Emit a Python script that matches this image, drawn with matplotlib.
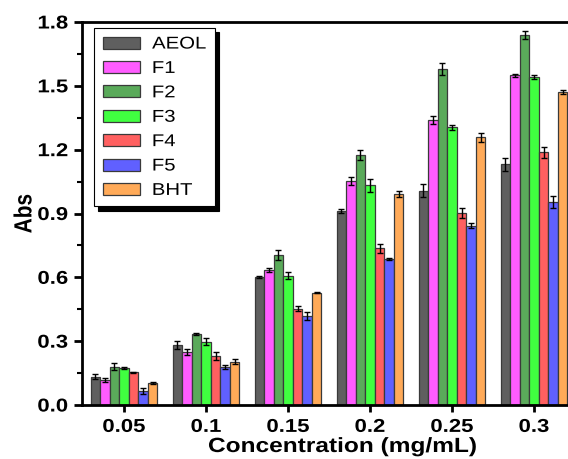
import matplotlib
matplotlib.use("Agg")
import matplotlib.pyplot as plt
from matplotlib.patheffects import AbstractPathEffect
from matplotlib.transforms import Affine2D
import numpy as np

plt.rcParams['font.family'] = ['Liberation Sans', 'DejaVu Sans']

concentrations = ["0.05", "0.1", "0.15", "0.2", "0.25", "0.3"]
series_names = ["AEOL", "F1", "F2", "F3", "F4", "F5", "BHT"]

AEOL = [0.133, 0.282, 0.600, 0.913, 1.007, 1.131]
F1 = [0.117, 0.248, 0.634, 1.053, 1.339, 1.549]
F2 = [0.180, 0.334, 0.705, 1.175, 1.578, 1.739]
F3 = [0.172, 0.298, 0.608, 1.032, 1.305, 1.540]
F4 = [0.154, 0.230, 0.453, 0.736, 0.904, 1.187]
F5 = [0.067, 0.180, 0.417, 0.685, 0.843, 0.953]
BHT = [0.102, 0.204, 0.528, 0.992, 1.258, 1.471]

AEOL_err = [0.013, 0.017, 0.005, 0.010, 0.030, 0.029]
F1_err = [0.008, 0.013, 0.010, 0.020, 0.019, 0.008]
F2_err = [0.017, 0.004, 0.025, 0.025, 0.028, 0.019]
F3_err = [0.005, 0.017, 0.017, 0.030, 0.013, 0.010]
F4_err = [0.003, 0.017, 0.013, 0.020, 0.024, 0.024]
F5_err = [0.015, 0.010, 0.019, 0.005, 0.013, 0.028]
BHT_err = [0.004, 0.010, 0.003, 0.013, 0.020, 0.009]

values = [AEOL, F1, F2, F3, F4, F5, BHT]
errors = [AEOL_err, F1_err, F2_err, F3_err, F4_err, F5_err, BHT_err]
colors = ["#5f5f5f", "#ff5cff", "#5aaa5a", "#40ff40", "#ff6060", "#6060ff", "#ffaa58"]

STRETCH = 1.19


class HStretch(AbstractPathEffect):
    """Stretch text horizontally (display x) about an anchor fraction f of its width."""

    def __init__(self, sx, f):
        super().__init__()
        self.sx = sx
        self.f = f

    def draw_path(self, renderer, gc, tpath, affine, rgbFace=None):
        ext = tpath.get_extents(affine)
        anchor = ext.x0 + self.f * ext.width
        new = affine + Affine2D().translate(-anchor, 0).scale(self.sx, 1).translate(anchor, 0)
        renderer.draw_path(gc, tpath, new, rgbFace)


W, H = 568, 459
fig = plt.figure(figsize=(W / 100, H / 100), dpi=100)
ax = fig.add_axes([82 / W, (H - 405) / H, 494 / W, 383 / H])

x = np.arange(len(concentrations))
bw = 0.116
n = len(series_names)
for i, (name, vals, errs, c) in enumerate(zip(series_names, values, errors, colors)):
    pos = x + (i - (n - 1) / 2) * bw
    ax.bar(pos, vals, width=bw, color=c, edgecolor="#3a3a3a", linewidth=0.9,
           label=name + "  ", zorder=2)
    ax.errorbar(pos, vals, yerr=errs, fmt="none", ecolor="black",
                elinewidth=1.0, capsize=2.5, capthick=1.0, zorder=3)

ax.set_xlim(-0.512, 5.512)
ax.set_ylim(0, 1.8)
ax.set_xticks(x)
ax.set_xticklabels(concentrations)
yt = np.arange(0, 1.81, 0.3)
ax.set_yticks(yt)
ax.set_yticklabels([f"{v:.1f}" for v in yt])
ax.set_yticks(np.arange(0.15, 1.8, 0.3), minor=True)

for lbl in ax.get_xticklabels():
    lbl.set_fontweight("bold")
    lbl.set_fontsize(13.4)
    lbl.set_path_effects([HStretch(STRETCH, 0.5)])
for lbl in ax.get_yticklabels():
    lbl.set_fontweight("bold")
    lbl.set_fontsize(13.4)
    lbl.set_path_effects([HStretch(STRETCH, 1.0)])

ax.tick_params(axis="both", which="major", direction="out", length=6, width=2)
ax.tick_params(axis="y", which="major", pad=4)
ax.tick_params(axis="y", which="minor", direction="out", length=3.5, width=1.5)
ax.tick_params(axis="x", which="major", length=5, pad=5)

for s in ["left", "bottom", "top"]:
    ax.spines[s].set_linewidth(2)
ax.spines["right"].set_visible(False)

yl = ax.set_ylabel("Abs", fontsize=15, fontweight="bold")
xl = ax.set_xlabel("Concentration (mg/mL)", fontsize=14.8, fontweight="bold")
yl.set_path_effects([HStretch(STRETCH, 0.5)])
xl.set_path_effects([HStretch(STRETCH, 0.5)])
ax.yaxis.set_label_coords((34 - 82) / 494, 0.5)
ax.xaxis.set_label_coords((342 - 82) / 494, -(437 - 405) / 383)

leg = ax.legend(loc="upper left", bbox_to_anchor=((94 - 82) / 494, 1 - (28 - 22) / 383),
                fontsize=12.3, frameon=True, fancybox=False, edgecolor="black",
                shadow={"ox": 3, "oy": -3, "color": "black", "alpha": 1},
                handlelength=2.2, handleheight=0.7, labelspacing=0.55,
                borderpad=0.5, handletextpad=0.7, borderaxespad=0)
leg.get_frame().set_linewidth(0.8)
for t in leg.get_texts():
    t.set_path_effects([HStretch(STRETCH, 0.0)])

fig.savefig("out.png", dpi=100)
